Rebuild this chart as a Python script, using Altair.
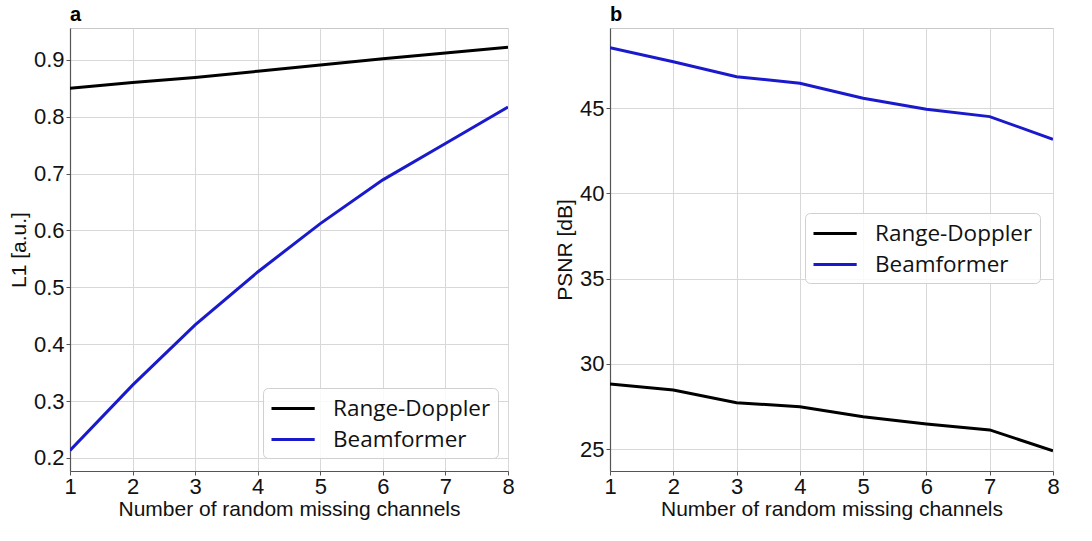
import altair as alt
import pandas as pd

channels = [1, 2, 3, 4, 5, 6, 7, 8]
series = ["Range-Doppler", "Beamformer"]
colors = ["#000000", "#1a1acc"]

l1_range_doppler = [0.850, 0.860, 0.869, 0.880, 0.891, 0.902, 0.912, 0.922]
l1_beamformer = [0.213, 0.328, 0.434, 0.527, 0.612, 0.689, 0.753, 0.817]
psnr_range_doppler = [28.81, 28.46, 27.72, 27.48, 26.90, 26.47, 26.12, 24.90]
psnr_beamformer = [48.56, 47.73, 46.85, 46.47, 45.59, 44.94, 44.51, 43.18]

l1_ticks = [0.2, 0.3, 0.4, 0.5, 0.6, 0.7, 0.8, 0.9]
psnr_ticks = [25, 30, 35, 40, 45]

FONT = "Liberation Sans"


def panel(rd, bf, ytitle, ydomain, yticks, yfmt, label, lx, ly, w):
    df = pd.DataFrame({
        "channels": channels * 2,
        "value": rd + bf,
        "series": [series[0]] * len(channels) + [series[1]] * len(channels),
    })
    return alt.Chart(df).mark_line(strokeWidth=3, clip=True).encode(
        x=alt.X("channels:Q",
                scale=alt.Scale(domain=[1, 8], nice=False, zero=False),
                axis=alt.Axis(values=channels, format="d",
                              title="Number of random missing channels")),
        y=alt.Y("value:Q",
                scale=alt.Scale(domain=ydomain, nice=False, zero=False),
                axis=alt.Axis(values=yticks, format=yfmt, title=ytitle)),
        color=alt.Color("series:N", sort=series,
                        scale=alt.Scale(domain=series, range=colors),
                        legend=alt.Legend(title=None, orient="none",
                                          legendX=lx, legendY=ly)),
    ).properties(
        width=w, height=443,
        title=alt.TitleParams(label, anchor="start", fontWeight="bold",
                              fontSize=20, font=FONT, offset=3, frame="group"),
    )


a = panel(l1_range_doppler, l1_beamformer, "L1 [a.u.]", [0.177, 0.956],
          l1_ticks, ".1f", "a", 193, 360, 438)
b = panel(psnr_range_doppler, psnr_beamformer, "PSNR [dB]", [23.71, 49.71],
          psnr_ticks, "d", "b", 195, 185, 443)

chart = alt.hconcat(a, b, spacing=102, bounds="flush").resolve_legend(
    color="independent"
).properties(
    padding={"left": 7, "top": 4, "right": 5, "bottom": 5},
).configure_view(
    stroke="#c8c8c8", strokeWidth=1
).configure_axis(
    labelFont=FONT, titleFont=FONT, labelFontSize=22, titleFontSize=21,
    labelColor="#111111", titleColor="#111111", titleFontWeight="normal",
    gridColor="#d8d8d8", gridWidth=1, domainColor="#555555", domainWidth=1.2,
    tickColor="#555555", tickSize=4, labelPadding=2,
).configure_axisY(
    titlePadding=4,
).configure_axisX(
    titlePadding=1, labelFlush=False, labelPadding=1,
).configure_legend(
    labelFont="Open Sans", labelFontSize=22.5, labelColor="#111111",
    symbolType="M-1,0L2.6,0", symbolSize=576, symbolStrokeWidth=3,
    labelOffset=36, padding=7, rowPadding=6,
    fillColor="rgba(255,255,255,0.85)", strokeColor="#d0d0d0",
    cornerRadius=5,
)

chart.save("out.html", embed_options={"renderer": "svg", "actions": False})
